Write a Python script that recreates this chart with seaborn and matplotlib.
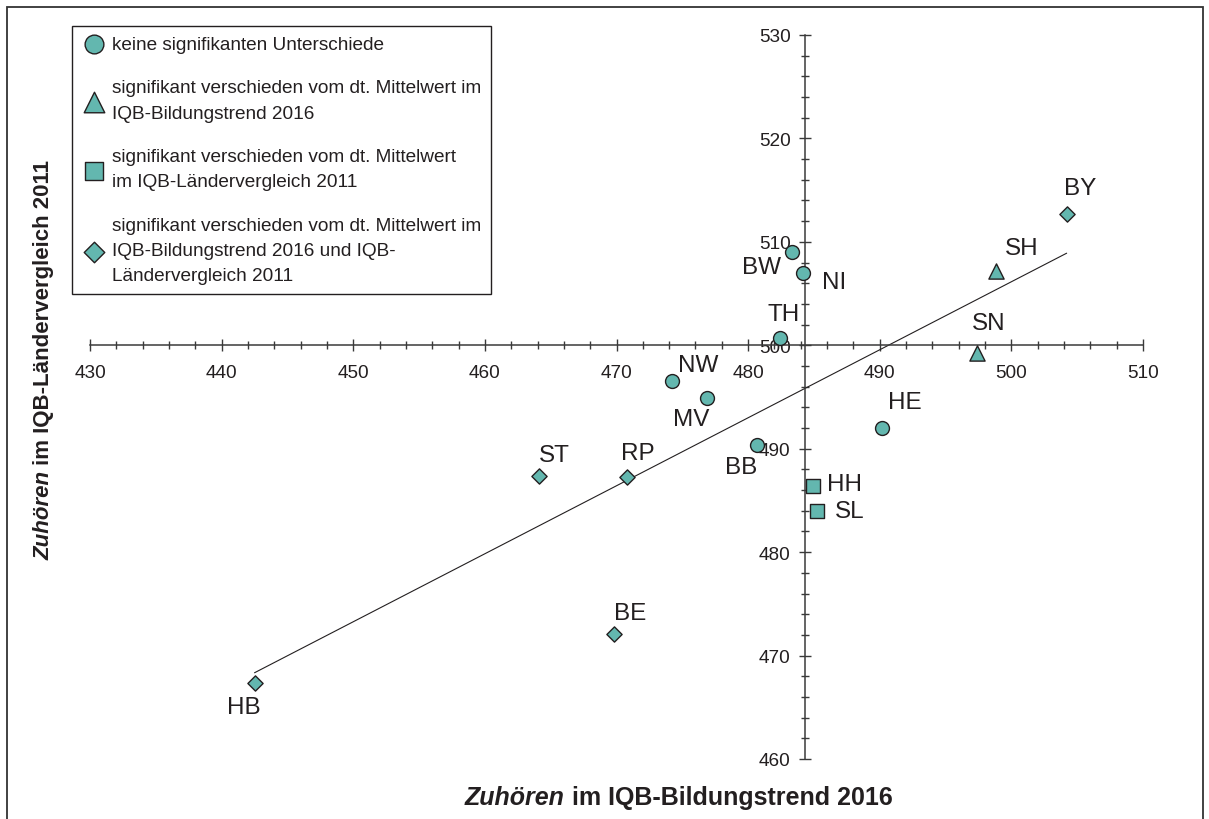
import pandas as pd  # Tabelle der Laenderwerte
import matplotlib
matplotlib.use('Agg')
import matplotlib.pyplot as plt
import seaborn as sns
from matplotlib.ticker import MultipleLocator
from matplotlib.patches import Rectangle

# Laender-Kuerzel
laender = ['BW', 'NI', 'TH', 'NW', 'MV', 'HE', 'BB',
           'SH', 'SN', 'HH', 'SL',
           'BY', 'ST', 'RP', 'BE', 'HB']
# Zuhoeren im IQB-Bildungstrend 2016
bt_2016 = [483.3, 484.2, 482.4, 474.2, 476.9, 490.2, 480.7,
           498.8, 497.4, 484.9, 485.2,
           504.2, 464.1, 470.8, 469.8, 442.5]
# Zuhoeren im IQB-Laendervergleich 2011
lv_2011 = [509.0, 507.0, 500.7, 496.5, 494.9, 492.0, 490.4,
           507.2, 499.3, 486.4, 484.0,
           512.7, 487.4, 487.3, 472.1, 467.3]
# Signifikanz-Gruppe je Land
gruppe = ['keine'] * 7 + ['bt'] * 2 + ['lv'] * 2 + ['beide'] * 5

# Legendentexte
legenden_text = {
    'keine': 'keine signifikanten Unterschiede',
    'bt': 'signifikant verschieden vom dt. Mittelwert im\nIQB-Bildungstrend 2016',
    'lv': 'signifikant verschieden vom dt. Mittelwert\nim IQB-Ländervergleich 2011',
    'beide': 'signifikant verschieden vom dt. Mittelwert im\nIQB-Bildungstrend 2016 und IQB-\nLändervergleich 2011',
}

# Achsenkreuz (dt. Mittelwerte)
mittel_2016 = 484.3
mittel_2011 = 500

df = pd.DataFrame({'land': laender, 'bt_2016': bt_2016,
                   'lv_2011': lv_2011, 'gruppe': gruppe})

# Darstellung: Marker und Beschriftungs-Versatz (in Punkten)
marker_stil = {'keine': ('o', 100), 'bt': ('^', 120), 'lv': ('s', 100), 'beide': ('D', 60)}
label_versatz = {
    'BW': (-22, -11), 'NI': (22, -6.5), 'TH': (3, 17), 'NW': (19, 12),
    'MV': (-11.5, -15), 'HE': (16.5, 18.5), 'BB': (-12, -16.5),
    'SH': (18.5, 16.5), 'SN': (8, 21.5), 'HH': (23, 1.5), 'SL': (24, 0),
    'BY': (9.5, 18.5), 'ST': (11, 15), 'RP': (8, 17), 'BE': (12, 15),
    'HB': (-8, -17),
}

teal = '#63B7AF'
dunkel = '#231F20'
achse = '#3A3A3A'

sns.set_theme(style='white')
plt.rcParams['font.family'] = ['Liberation Sans', 'DejaVu Sans']

fig = plt.figure(figsize=(12.09, 8.2), dpi=100)
ax = fig.add_axes([90 / 1209, 60 / 820, 1053 / 1209, 724 / 820])

# Regressionsgerade
sns.regplot(data=df, x='bt_2016', y='lv_2011', scatter=False, ci=None,
            truncate=True, color=dunkel, line_kws={'lw': 0.8}, ax=ax)

# Punkte je Gruppe
for g in ['keine', 'bt', 'lv', 'beide']:
    m, s = marker_stil[g]
    sns.scatterplot(data=df[df['gruppe'] == g], x='bt_2016', y='lv_2011',
                    marker=m, s=s, color=teal, edgecolor=dunkel, linewidth=1,
                    label=legenden_text[g], zorder=3, ax=ax)

# Laender-Beschriftungen
for _, row in df.iterrows():
    ax.annotate(row['land'], (row['bt_2016'], row['lv_2011']),
                xytext=label_versatz[row['land']], textcoords='offset points',
                ha='center', va='center', fontsize=17.5, color=dunkel)

# Achsen
ax.set_xlim(430, 510)
ax.set_ylim(460, 530)
ax.set_xlabel('')
ax.set_ylabel('')
ax.spines['left'].set_position(('data', mittel_2016))
ax.spines['bottom'].set_position(('data', mittel_2011))
ax.spines['top'].set_visible(False)
ax.spines['right'].set_visible(False)
for sp in ['left', 'bottom']:
    ax.spines[sp].set_color(achse)
    ax.spines[sp].set_linewidth(1.1)
ax.xaxis.set_major_locator(MultipleLocator(10))
ax.xaxis.set_minor_locator(MultipleLocator(2))
ax.yaxis.set_major_locator(MultipleLocator(10))
ax.yaxis.set_minor_locator(MultipleLocator(2))
ax.tick_params(which='both', bottom=True, left=True, top=False, right=False)
ax.tick_params(which='major', direction='inout', length=8.5, width=1,
               color=achse, labelsize=13.7, labelcolor=dunkel)
ax.tick_params(which='minor', direction='inout', length=6, width=1, color=achse)
ax.tick_params(axis='x', which='major', pad=9)
ax.tick_params(axis='y', which='major', pad=6)
ax.grid(False)

# Legende
leg = ax.legend(loc='upper left', bbox_to_anchor=(72 / 1209, 1 - 27 / 820),
                bbox_transform=fig.transFigure, borderaxespad=0, frameon=True,
                fancybox=False, edgecolor=dunkel, framealpha=1, fontsize=13.7,
                labelspacing=1.4, handlelength=1.3, handletextpad=0.3,
                borderpad=0.5, markerscale=1.35)
leg.get_frame().set_linewidth(1)
for t in leg.get_texts():
    t.set_linespacing(1.62)
    t.set_color(dunkel)

# Achsentitel: "Zuhören" kursiv, Rest fett
xl = fig.text(465 / 1209, 15 / 820, 'Zuhören', fontsize=18, fontweight='bold',
              style='italic', va='baseline', color=dunkel)
ax.annotate(' im IQB-Bildungstrend 2016', xy=(1, 0), xycoords=xl, va='bottom',
            ha='left', fontsize=18, fontweight='bold', color=dunkel)
yl = fig.text(44 / 1209, 260 / 820, 'Zuhören', fontsize=16, fontweight='bold',
              style='italic', rotation=90, ha='center', va='bottom', color=dunkel)
ax.annotate(' im IQB-Ländervergleich 2011', xy=(0.5, 1), xycoords=yl, rotation=90,
            ha='center', va='bottom', fontsize=16, fontweight='bold', color=dunkel)

# Rahmen um die Grafik
fig.add_artist(Rectangle((7 / 1209, -0.05), 1196 / 1209, 1.05 - 8 / 820,
                         transform=fig.transFigure, fill=False, lw=1.3, ec='#333333'))

fig.savefig('out.png', dpi=100)
